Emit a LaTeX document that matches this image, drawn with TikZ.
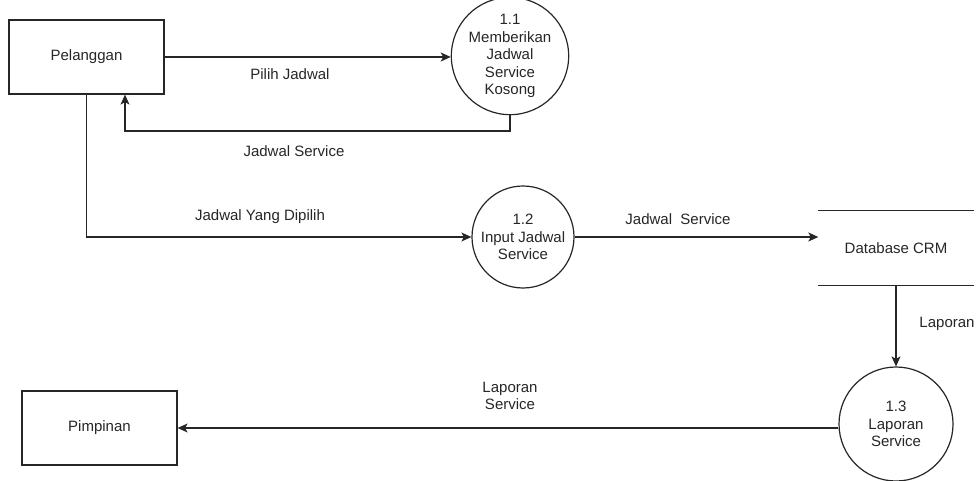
\documentclass[tikz,border=0pt]{standalone}
\usepackage{fontspec}
\setmainfont{Liberation Sans}
\usetikzlibrary{arrows.meta}
\begin{document}
\begin{tikzpicture}[x=1pt,y=-1pt,
  every node/.style={font=\fontsize{15}{17.5}\selectfont, text=black!85},
  entity/.style={draw=black!85, line width=1.2pt, minimum width=155pt, minimum height=74pt, inner sep=0pt},
  proc/.style={draw=black!85, line width=1.2pt, circle, inner sep=0pt, align=center},
  store/.style={minimum width=155pt, minimum height=74pt, inner sep=0pt},
  flow/.style={draw=black!85, line width=1.2pt, -{Stealth[length=10pt,width=9pt,inset=2.5pt]}},
  lbl/.style={inner sep=1pt, align=center}
]
\useasboundingbox (0,0) rectangle (976,481);
\node[entity] (pel) at (86.5,57) {Pelanggan};
\node[entity] (pim) at (99.5,428) {Pimpinan};
\node[proc, minimum size=104pt] (p11) at (510,56) {1.1\\Memberikan\\Jadwal\\Service\\Kosong};
\node[proc, minimum size=102pt] (p12) at (523,237) {1.2\\Input Jadwal\\Service};
\node[proc, minimum size=114pt] (p13) at (896,424) {1.3\\Laporan\\Service};
\node[store] (db) at (896,248) {Database CRM};
\draw[black!85, line width=1.2pt] (db.north west) -- (db.north east);
\draw[black!85, line width=1.2pt] (db.south west) -- (db.south east);
\coordinate (r1) at (125,131);
\draw[flow] (pel.east) -- (pel.east -| p11.west);
\draw[flow] (p11.south) |- (r1) -- (r1 |- pel.south);
\draw[flow] (pel.south) |- (p12.west);
\draw[flow] (p12.east) -- (db.west |- p12.east);
\draw[flow] (db.south) -- (p13.north);
\draw[flow] (pim.east -| p13.west) -- (pim.east);
\node[lbl] (l1) at (290,74) {Pilih Jadwal};
\node[lbl] (l2) at (294,151) {Jadwal Service};
\node[lbl] (l3) at (260,217) {Jadwal Yang Dipilih};
\node[lbl] (l4) at (678,219) {Jadwal\ \ Service};
\node[lbl] (l5) at (947,324) {Laporan};
\node[lbl] (l6) at (510,396) {Laporan\\Service};
\end{tikzpicture}
\end{document}
